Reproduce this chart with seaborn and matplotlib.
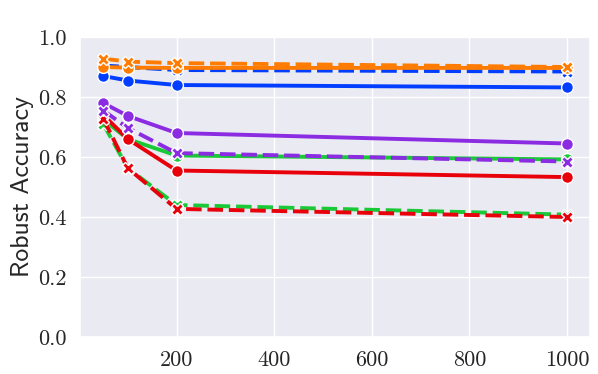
import matplotlib
matplotlib.use("Agg")
import matplotlib.pyplot as plt
import seaborn as sns
import pandas as pd

x_values = [50, 100, 200, 1000]
models = ["blue", "orange", "green", "red", "purple"]
blue_solid = [0.870, 0.855, 0.840, 0.832]
blue_dashed = [0.905, 0.900, 0.890, 0.885]
orange_solid = [0.900, 0.898, 0.897, 0.897]
orange_dashed = [0.928, 0.918, 0.913, 0.900]
green_solid = [0.725, 0.660, 0.605, 0.592]
green_dashed = [0.710, 0.563, 0.440, 0.408]
red_solid = [0.740, 0.660, 0.555, 0.533]
red_dashed = [0.728, 0.563, 0.427, 0.400]
purple_solid = [0.780, 0.737, 0.680, 0.645]
purple_dashed = [0.755, 0.697, 0.613, 0.585]

series = {
    ("blue", "a"): blue_solid, ("blue", "b"): blue_dashed,
    ("orange", "a"): orange_solid, ("orange", "b"): orange_dashed,
    ("green", "a"): green_solid, ("green", "b"): green_dashed,
    ("red", "a"): red_solid, ("red", "b"): red_dashed,
    ("purple", "a"): purple_solid, ("purple", "b"): purple_dashed,
}
rows = []
for (m, s), vals in series.items():
    for xv, yv in zip(x_values, vals):
        rows.append({"n": xv, "acc": yv, "model": m, "style": s})
df = pd.DataFrame(rows)

sns.set_theme(style="darkgrid")
plt.rcParams["font.family"] = ["cmr10", "DejaVu Sans"]
plt.rcParams["axes.formatter.use_mathtext"] = True
plt.rcParams["mathtext.fontset"] = "cm"

fig = plt.figure(figsize=(5.98, 3.74), dpi=100)
ax = fig.add_axes([0.134, 0.099, 0.853, 0.802])
palette = dict(zip(models, sns.color_palette("bright", 5)))
sns.lineplot(data=df, x="n", y="acc", hue="model", style="style",
             hue_order=models, style_order=["a", "b"], palette=palette,
             markers=["o", "X"], dashes=[(1, 0), (4, 1.5)], linewidth=2.8,
             markersize=8.5, markeredgecolor="white", markeredgewidth=1,
             legend=False, ax=ax)
ax.set_ylim(0, 1.0)
ax.set_yticks([0, 0.2, 0.4, 0.6, 0.8, 1.0])
ax.set_yticklabels(["0.0", "0.2", "0.4", "0.6", "0.8", "1.0"])
ax.set_xticks([200, 400, 600, 800, 1000])
ax.set_xticklabels(["200", "400", "600", "800", "1000"])
ax.tick_params(labelsize=16)
ax.set_xlabel("")
ax.set_ylabel("Robust Accuracy", fontsize=18.5, family=["cmss10", "DejaVu Sans"],
              labelpad=3)
fig.savefig("out.png", dpi=100)
